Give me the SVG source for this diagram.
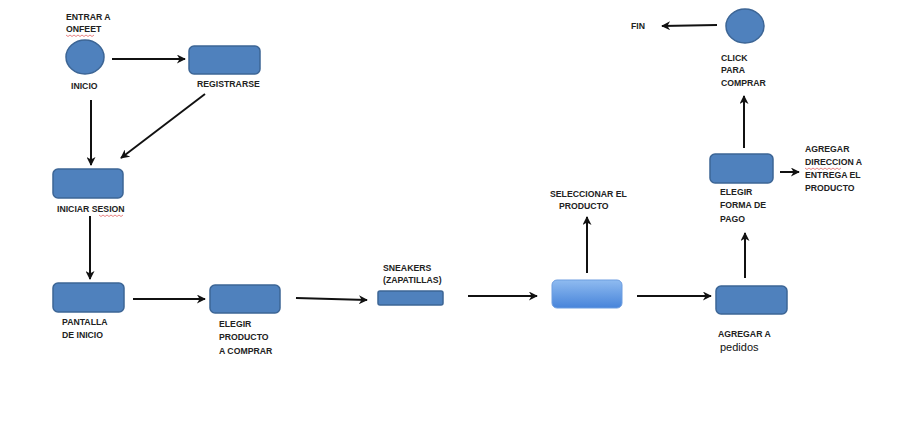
<svg xmlns="http://www.w3.org/2000/svg" width="904" height="446" viewBox="0 0 904 446">
<style>
.n{fill:#4f81bd;stroke:#3c6595;stroke-width:1.5}
.t{font-family:"Liberation Sans",Arial,sans-serif;font-size:8.7px;font-weight:bold;fill:#222}
.p{font-family:"Liberation Sans",Arial,sans-serif;font-size:11px;fill:#111}
.c{stroke:#111;stroke-width:2;fill:none;marker-end:url(#ah)}
.sq{stroke:#e05050;stroke-width:0.7;fill:none}
</style>
<defs>
<marker id="ah" viewBox="0 0 10 10" refX="9" refY="5" markerWidth="10" markerHeight="9" markerUnits="userSpaceOnUse" orient="auto">
<path d="M0,0 L10,5 L0,10 L3,5 Z" fill="#111"/>
</marker>
<linearGradient id="g" x1="0" y1="0" x2="0" y2="1">
<stop offset="0" stop-color="#8fbbf0"/>
<stop offset="1" stop-color="#4784da"/>
</linearGradient>
</defs>
<rect width="904" height="446" fill="#fff"/>
<g id="connectors">
<line class="c" x1="112" y1="59" x2="185" y2="59"/>
<line class="c" x1="91" y1="100" x2="91" y2="165"/>
<line class="c" x1="205" y1="94" x2="121" y2="158"/>
<line class="c" x1="90" y1="216" x2="90" y2="279"/>
<line class="c" x1="133" y1="299" x2="205" y2="299"/>
<line class="c" x1="296" y1="298" x2="367" y2="300"/>
<line class="c" x1="468" y1="296" x2="537" y2="296"/>
<line class="c" x1="587" y1="273" x2="587" y2="217"/>
<line class="c" x1="637" y1="296" x2="711" y2="296"/>
<line class="c" x1="745" y1="278" x2="745" y2="233"/>
<line class="c" x1="780" y1="172" x2="799" y2="172"/>
<line class="c" x1="744" y1="148" x2="744" y2="96"/>
<line class="c" x1="717" y1="25" x2="662" y2="26"/>
</g>
<g id="inicio">
<ellipse class="n" cx="85" cy="57" rx="19" ry="17"/>
<text class="t" x="66" y="20">ENTRAR A</text>
<text class="t" x="66" y="32">ONFEET</text>
<path class="sq" d="M66,35 l2,1.5 l2,-1.5 l2,1.5 l2,-1.5 l2,1.5 l2,-1.5 l2,1.5 l2,-1.5 l2,1.5 l2,-1.5 l2,1.5 l2,-1.5 l2,1.5 l2,-1.5"/>
<text class="t" x="71" y="89">INICIO</text>
</g>
<g id="registrarse">
<rect class="n" x="189" y="46" width="71" height="28" rx="5"/>
<text class="t" x="197" y="87">REGISTRARSE</text>
</g>
<g id="iniciar-sesion">
<rect class="n" x="53" y="169" width="70" height="29" rx="5"/>
<text class="t" x="57" y="212">INICIAR SESION</text>
<path class="sq" d="M99,215 l2,1.5 l2,-1.5 l2,1.5 l2,-1.5 l2,1.5 l2,-1.5 l2,1.5 l2,-1.5 l2,1.5 l2,-1.5 l2,1.5 l2,-1.5"/>
</g>
<g id="pantalla-inicio">
<rect class="n" x="53" y="283" width="71" height="29" rx="5"/>
<text class="t" x="62" y="325">PANTALLA</text>
<text class="t" x="62" y="338">DE INICIO</text>
</g>
<g id="elegir-producto">
<rect class="n" x="210" y="285" width="70" height="28" rx="5"/>
<text class="t" x="219" y="327">ELEGIR</text>
<text class="t" x="219" y="340">PRODUCTO</text>
<text class="t" x="219" y="354">A COMPRAR</text>
</g>
<g id="sneakers">
<rect class="n" x="378" y="291" width="65" height="14" rx="2"/>
<text class="t" x="383" y="271">SNEAKERS</text>
<text class="t" x="383" y="283">(ZAPATILLAS)</text>
</g>
<g id="seleccionar">
<rect x="552" y="280" width="70" height="28" rx="5" fill="url(#g)" stroke="#6d9de0" stroke-width="1"/>
<text class="t" x="550" y="197">SELECCIONAR EL</text>
<text class="t" x="559" y="209">PRODUCTO</text>
</g>
<g id="agregar-pedidos">
<rect class="n" x="716" y="286" width="71" height="28" rx="5"/>
<text class="t" x="718" y="337">AGREGAR A</text>
<text class="p" x="720" y="351">pedidos</text>
</g>
<g id="elegir-forma-pago">
<rect class="n" x="710" y="154" width="63" height="29" rx="5"/>
<text class="t" x="720" y="195">ELEGIR</text>
<text class="t" x="720" y="208">FORMA DE</text>
<text class="t" x="720" y="222">PAGO</text>
</g>
<g id="agregar-direccion">
<text class="t" x="805" y="152">AGREGAR</text>
<text class="t" x="805" y="165">DIRECCION A</text>
<path class="sq" d="M805,168 l2,1.5 l2,-1.5 l2,1.5 l2,-1.5 l2,1.5 l2,-1.5 l2,1.5 l2,-1.5 l2,1.5 l2,-1.5 l2,1.5 l2,-1.5 l2,1.5 l2,-1.5 l2,1.5 l2,-1.5 l2,1.5 l2,-1.5"/>
<text class="t" x="805" y="178">ENTREGA EL</text>
<text class="t" x="805" y="191">PRODUCTO</text>
</g>
<g id="click-comprar">
<ellipse class="n" cx="745" cy="26" rx="19" ry="17"/>
<text class="t" x="721" y="61">CLICK</text>
<text class="t" x="721" y="73">PARA</text>
<text class="t" x="721" y="86">COMPRAR</text>
</g>
<g id="fin">
<text class="t" x="631" y="29">FIN</text>
</g>
</svg>
